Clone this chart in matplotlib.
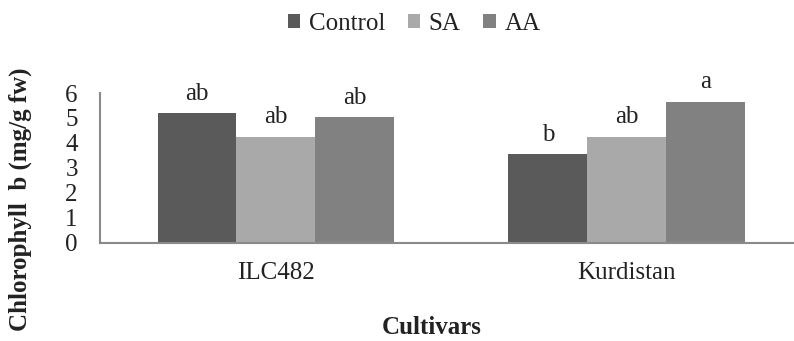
import matplotlib
matplotlib.use("Agg")
import matplotlib.pyplot as plt
import numpy as np
from matplotlib.patches import Patch

cultivars = ["ILC482", "Kurdistan"]
series = ["Control", "SA", "AA"]
control = [5.19, 3.54]
sa = [4.25, 4.25]
aa = [5.03, 5.65]
letters_control = ["ab", "b"]
letters_sa = ["ab", "ab"]
letters_aa = ["ab", "a"]
yticks = [0, 1, 2, 3, 4, 5, 6]

colors = ["#5a5a5a", "#a9a9a9", "#818181"]
plt.rcParams['font.family'] = ['Liberation Serif', 'DejaVu Serif']
FS = 18

W, H = 794, 341
fig = plt.figure(figsize=(W / 100, H / 100), dpi=100)
ax = fig.add_axes([100 / W, 98.5 / H, 694 / W, 149.5 / H])

x = np.arange(len(cultivars))
bw = 0.225
vals = [control, sa, aa]
letters = [letters_control, letters_sa, letters_aa]
for i, (v, lab, c) in enumerate(zip(vals, letters, colors)):
    xs = x + (i - 1) * bw
    ax.bar(xs, v, width=bw, color=c, label=series[i], zorder=2)
    for xi, vi, li in zip(xs, v, lab):
        ax.annotate(li, (xi, vi), xytext=(0, 6), textcoords="offset points",
                    ha="center", va="bottom", fontsize=FS, color="#222222")

ax.set_xlim(-0.5014, 1.476)
ax.set_ylim(0, 6)
ax.set_yticks(yticks)
ax.set_yticklabels([str(t) for t in yticks])
ax.set_xticks(x)
ax.set_xticklabels(cultivars)
ax.tick_params(axis="y", length=0, pad=16, labelsize=FS, labelcolor="#222222")
ax.tick_params(axis="x", length=0, pad=14, labelsize=FS, labelcolor="#222222")
for s in ["top", "right"]:
    ax.spines[s].set_visible(False)
for s in ["left", "bottom"]:
    ax.spines[s].set_color("#8a8a8a")
    ax.spines[s].set_linewidth(1.5)

fig.text(20 / W, 1 - 199 / H, "Chlorophyll  b (mg/g fw)", rotation=90,
         ha="center", va="center", fontsize=FS, fontweight="bold", color="#222222")
fig.text(432 / W, 1 - 328 / H, "Cultivars", ha="center", va="center",
         fontsize=FS, fontweight="bold", color="#222222")

handles = [Patch(facecolor=c, label=s) for c, s in zip(colors, series)]
leg = fig.legend(handles=handles, loc="center", bbox_to_anchor=(414 / W, 1 - 24 / H),
                 ncol=3, frameon=False, fontsize=FS,
                 handlelength=0.5, handleheight=0.5,
                 handletextpad=0.35, columnspacing=0.9)
for t in leg.get_texts():
    t.set_fontfamily("Liberation Serif")
    t.set_color("#222222")

fig.savefig("out.png", dpi=100)
